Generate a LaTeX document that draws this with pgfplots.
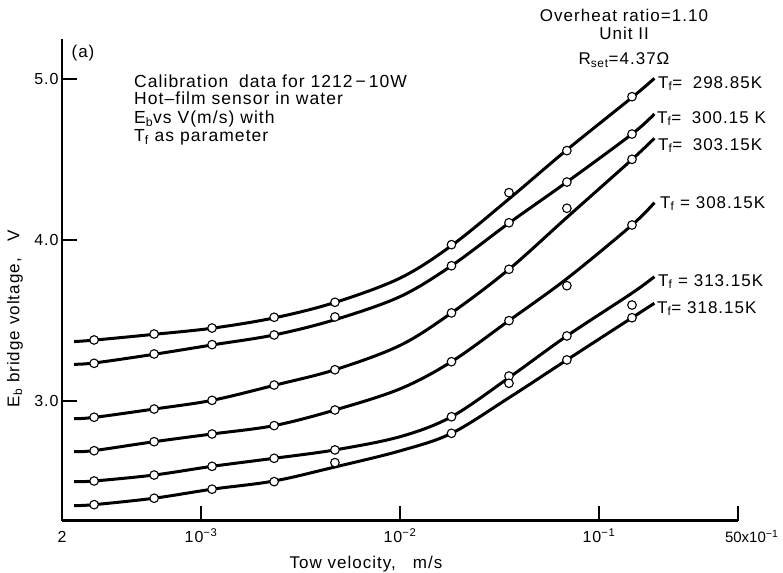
\documentclass[border=0pt]{standalone}
\usepackage{fontspec}
\setmainfont{Liberation Sans}[LetterSpace=6.0]
\usepackage{pgfplots}
\pgfplotsset{compat=1.18}
\newcommand\fs[1]{\fontsize{#1}{#1}\selectfont}
\pgfplotsset{
 crv/.style={black, line width=3pt, smooth, tension=0.55, no marks},
 pts/.style={black, only marks, mark=*, mark size=4.3pt, mark options={fill=white, draw=black, line width=1.1pt}},
}
\begin{document}
\begin{tikzpicture}
\path[use as bounding box] (-62pt,-51.3pt) rectangle (721pt,520.75pt);
\begin{axis}[
 at={(0,0)}, anchor=south west,
 scale only axis, width=676pt, height=482pt,
 xmode=log, xmin=2e-4, xmax=0.5, ymin=2.256, ymax=5.25,
 axis x line=bottom, axis y line=left,
 axis line style={line width=2.6pt, -},
 xtick={2e-4,1e-3,1e-2,1e-1,0.5},
 xticklabels={2, 10\textsuperscript{−3}, 10\textsuperscript{−2}, 10\textsuperscript{−1}, \makebox[26pt][l]{\addfontfeatures{LetterSpace=0}\fs{15}50x10\textsuperscript{−1}}},
 ytick={3,4,5}, yticklabels={3.0,4.0,5.0},
 xminorticks=false, yminorticks=false,
 tick align=inside, major tick length=15pt,
 every tick/.style={black, line width=1.3pt},
 tick label style={font=\fs{16}},
 xticklabel style={text height=13pt, text depth=0pt, yshift=-5pt},
 xlabel={Tow velocity,\quad m/s},
 ylabel={E\textsubscript{b} bridge voltage,\quad V},
 label style={font=\fs{17}},
 x label style={at={(axis description cs:0.4497,-0.090)}, anchor=center},
 y label style={at={(axis description cs:-0.0695,0.4196)}, anchor=center},
 clip=false,
]
% fitted curves
\addplot[crv] table {
x y
2.3e-4 3.369
2.90e-4 3.378
5.81e-4 3.414
1.136e-3 3.452
2.33e-3 3.516
4.71e-3 3.612
1.0e-2 3.763
1.815e-2 3.965
3.53e-2 4.255
6.90e-2 4.560
0.1466 4.885
0.19 5.004
};
\addplot[crv] table {
x y
2.3e-4 3.228
2.90e-4 3.236
5.81e-4 3.290
1.136e-3 3.348
2.33e-3 3.410
4.71e-3 3.505
1.0e-2 3.648
1.815e-2 3.840
3.53e-2 4.105
6.90e-2 4.360
0.1466 4.658
0.19 4.783
};
\addplot[crv] table {
x y
2.3e-4 2.890
2.90e-4 2.898
5.81e-4 2.950
1.136e-3 3.004
2.33e-3 3.097
4.71e-3 3.194
1.0e-2 3.345
1.815e-2 3.547
3.53e-2 3.818
6.90e-2 4.140
0.1466 4.500
0.19 4.632
};
\addplot[crv] table {
x y
2.3e-4 2.685
2.90e-4 2.692
5.81e-4 2.747
1.136e-3 2.795
2.33e-3 2.847
4.71e-3 2.944
1.0e-2 3.075
1.815e-2 3.244
3.53e-2 3.499
6.90e-2 3.760
0.1466 4.093
0.19 4.232
};
\addplot[crv] table {
x y
2.3e-4 2.499
2.90e-4 2.503
5.81e-4 2.540
1.136e-3 2.594
2.33e-3 2.644
4.71e-3 2.696
1.0e-2 2.778
1.815e-2 2.902
3.53e-2 3.145
6.90e-2 3.404
0.1466 3.670
0.19 3.772
};
\addplot[crv] table {
x y
2.3e-4 2.350
2.90e-4 2.356
5.81e-4 2.396
1.136e-3 2.452
2.33e-3 2.503
4.71e-3 2.590
1.0e-2 2.690
1.815e-2 2.799
3.53e-2 3.020
6.90e-2 3.255
0.1466 3.517
0.19 3.607
};
% measured points
\addplot[pts] table {
x y
2.90e-4 3.379
5.81e-4 3.416
1.136e-3 3.453
2.33e-3 3.520
4.71e-3 3.613
1.815e-2 3.971
3.53e-2 4.294
6.90e-2 4.555
0.1466 4.890
};
\addplot[pts] table {
x y
2.90e-4 3.234
5.81e-4 3.292
1.136e-3 3.350
2.33e-3 3.410
4.71e-3 3.522
1.815e-2 3.840
3.53e-2 4.107
6.90e-2 4.360
0.1466 4.658
};
\addplot[pts] table {
x y
2.90e-4 2.899
5.81e-4 2.950
1.136e-3 3.004
2.33e-3 3.099
4.71e-3 3.194
1.815e-2 3.547
3.53e-2 3.818
6.90e-2 4.197
0.1466 4.501
};
\addplot[pts] table {
x y
2.90e-4 2.691
5.81e-4 2.747
1.136e-3 2.795
2.33e-3 2.847
4.71e-3 2.944
1.815e-2 3.244
3.53e-2 3.499
6.90e-2 3.716
0.1466 4.093
};
\addplot[pts] table {
x y
2.90e-4 2.503
5.81e-4 2.540
1.136e-3 2.594
2.33e-3 2.644
4.71e-3 2.696
1.815e-2 2.902
3.53e-2 3.155
6.90e-2 3.404
0.1466 3.596
};
\addplot[pts] table {
x y
2.90e-4 2.356
5.81e-4 2.396
1.136e-3 2.452
2.33e-3 2.499
4.71e-3 2.617
1.815e-2 2.799
3.53e-2 3.110
6.90e-2 3.255
0.1466 3.517
};
\end{axis}
% annotations
\node[font=\fs{17}, inner sep=0] at (21pt,467.7pt) {(a)};
\begin{scope}[every node/.style={anchor=base west, font=\fs{17.5}, inner sep=0}]
\node at (72pt,433pt) {Calibration\; data for 1212\,−\,10W};
\node at (72pt,416.4pt) {Hot–film sensor in water};
\node at (72pt,397pt) {E\textsubscript{b}vs V(m/s) with};
\node at (72pt,379pt) {T\textsubscript{f} as parameter};
\end{scope}
\begin{scope}[every node/.style={anchor=base, font=\fs{17}, inner sep=0}]
\node at (562pt,499.2pt) {Overheat ratio=1.10};
\node at (562pt,481.2pt) {Unit II};
\node at (562pt,456.2pt) {R\textsubscript{set}=4.37Ω};
\end{scope}
\begin{scope}[every node/.style={anchor=base west, font=\fs{17}, inner sep=0}]
\node at (596pt,432.7pt) {T\textsubscript{f}=\; 298.85K};
\node at (595pt,397.7pt) {T\textsubscript{f}=\; 300.15 K};
\node at (596pt,370.7pt) {T\textsubscript{f}=\; 303.15K};
\node at (598pt,312.7pt) {T\textsubscript{f} = 308.15K};
\node at (596pt,234.7pt) {T\textsubscript{f} = 313.15K};
\node at (595pt,207.7pt) {T\textsubscript{f}= 318.15K};
\end{scope}
\end{tikzpicture}
\end{document}
